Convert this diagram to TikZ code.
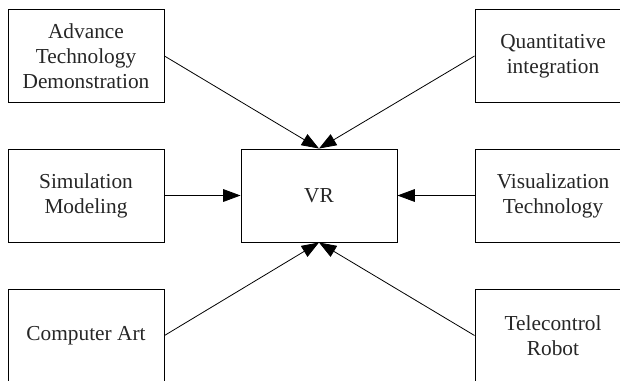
\documentclass[tikz,border=0pt]{standalone}
\usepackage{fontspec}
\setmainfont{Liberation Serif}
\usetikzlibrary{arrows.meta}
\begin{document}
\begin{tikzpicture}[x=0.75pt,y=-0.75pt,
  box/.style={draw, line width=0.7pt, minimum width=117pt, minimum height=69.75pt,
    inner sep=0pt, align=center, text=black!85,
    font=\fontsize{16pt}{18.75pt}\selectfont},
  feed/.style={line width=0.6pt, -{Triangle[length=13pt,width=9.5pt]}}]
  \useasboundingbox (0,0) rectangle (620,380);
  \clip (0,0) rectangle (620,380);
  % central node
  \node[box] (vr) at (319,195.5) {VR};
  % left column
  \node[box] (atd) at (86,56)    {Advance\\Technology\\Demonstration};
  \node[box] (sim) at (86,195.5) {Simulation\\Modeling};
  \node[box] (art) at (86,335.5) {Computer Art};
  % right column
  \node[box] (qi)  at (553,56)    {Quantitative\\integration};
  \node[box] (vis) at (553,195.5) {Visualization\\Technology};
  \node[box] (tel) at (553,335.5) {Telecontrol\\Robot};
  % connectors into VR
  \draw[feed] (atd.east) -- (vr.north);
  \draw[feed] (qi.west)  -- (vr.north);
  \draw[feed] (sim.east) -- (vr.west);
  \draw[feed] (vis.west) -- (vr.east);
  \draw[feed] (art.east) -- (vr.south);
  \draw[feed] (tel.west) -- (vr.south);
\end{tikzpicture}
\end{document}
